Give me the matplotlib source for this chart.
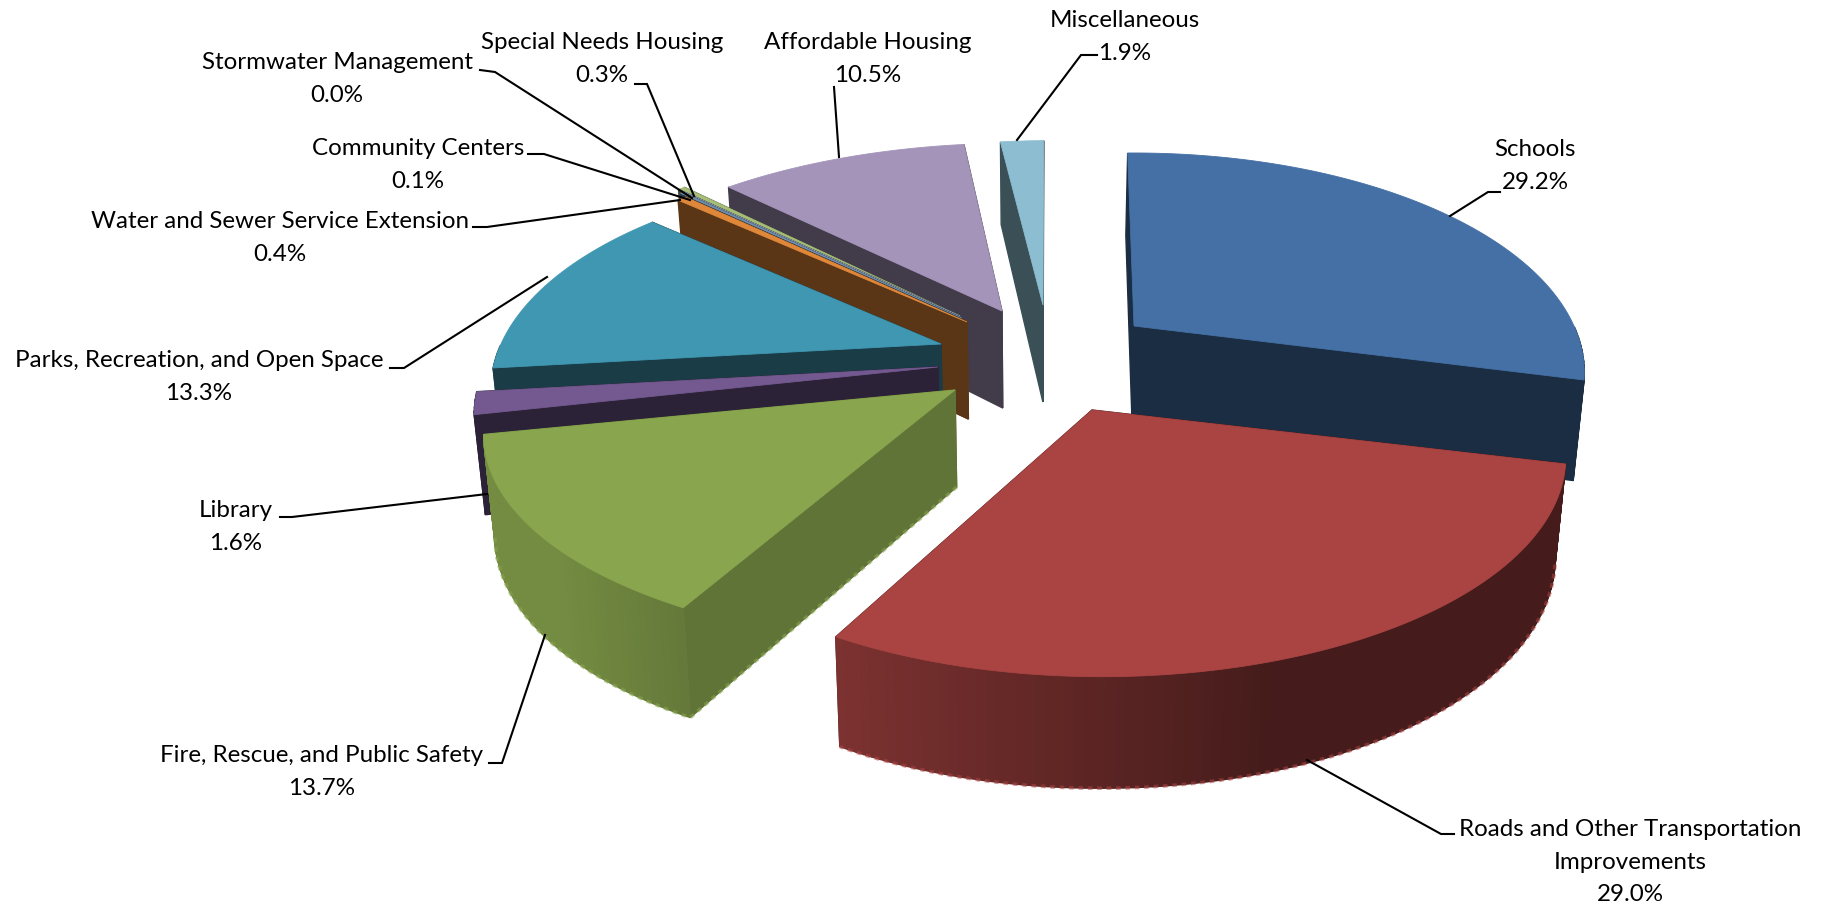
import numpy as np
import matplotlib
matplotlib.use("Agg")
import matplotlib.pyplot as plt

# share of spending per category, clockwise from the top
categories = ["Schools", "Roads and Other Transportation\nImprovements",
              "Fire, Rescue, and Public Safety", "Library",
              "Parks, Recreation, and Open Space",
              "Water and Sewer Service Extension", "Community Centers",
              "Stormwater Management", "Special Needs Housing",
              "Affordable Housing", "Miscellaneous"]
shares = [29.2, 29.0, 13.7, 1.6, 13.3, 0.4, 0.1, 0.0, 0.3, 10.5, 1.9]

# styles
top_colors = ["#4470A5", "#A94442", "#89A54E", "#735990", "#4097B2", "#E0883A",
              "#6F8FB0", "#A5B5C5", "#A6BE78", "#A594BA", "#8CBDD0"]
side_shade = [0.40, 0.40, 0.70, 0.38, 0.40, 0.40, 0.40, 0.40, 0.40, 0.40, 0.42]
# explode: where the tip of each slice ends up (picture px) and how much it grows
tips = [(1134, 326), (1092, 410), (955, 390), (938, 367), (941, 344), (967, 322),
        (962, 318), (960, 316), (958, 315), (1002, 311), (1043, 305)]
grow_x = [1.0, 1.03, 1.04, 1.03, 1.0, 1.0, 1.0, 1.0, 1.0, 1.05, 1.0]
grow_y = [1.0, 1.0, 0.96, 1.03, 1.0, 1.0, 1.0, 1.0, 1.0, 0.97, 0.95]
lean = [0, 10, -3, 0, 0, 0, 0, 0, 0, 14, 7]
draw_order = [10, 9, 8, 7, 6, 5, 4, 3, 2, 0, 1]

# label text centre (first line), then the leader line from slice to label
label_xy = [(1535, 139), (1630, 819), (322, 745), (236, 500), (199, 350), (280, 211),
            (418, 138), (337, 52), (602, 32), (868, 32), (1125, 10)]
leaders = [[(1450, 216), (1488, 192), (1500, 192)],
           [(1307, 760), (1441, 834), (1454, 834)],
           [(545, 635), (502, 763), (489, 763)],
           [(487, 494), (292, 517), (280, 517)],
           [(547, 277), (404, 368), (390, 368)],
           [(680, 200), (487, 227), (473, 227)],
           [(690, 200), (544, 154), (528, 154)],
           [(692, 198), (495, 72), (480, 70)],
           [(694, 196), (647, 84), (635, 84)],
           [(839, 157), (834, 87)],
           [(1017, 140), (1081, 55), (1097, 55)]]

R = 440
K = 0.477
PERSP = 0.213
DEPTH = 97
GX = 1037
CONV = 0.98
START = -1.0


def project(theta, r, i, z=0.0):
    a = np.radians(theta)
    X = r * np.sin(a)
    Y = -r * np.cos(a)
    s = 1 / (1 - PERSP * Y)
    x = tips[i][0] + R * grow_x[i] * X * s + lean[i] * r
    y = tips[i][1] + R * K * grow_y[i] * Y * s + z * (1 + 0.15 * Y)
    if z > 0:
        x = GX + (x - GX) * CONV
    return x, y


def wall_shade(theta, i):
    # only the two big front slices get the left to right fade
    if i not in (1, 2):
        return side_shade[i]
    X = np.sin(np.radians(theta))
    return np.clip(0.41 + (0.3 - X) * 0.42, 0.41, 0.85)


def mixed(col, f):
    return tuple(min(1, c * f) for c in matplotlib.colors.to_rgb(col))


plt.rcParams['font.family'] = ['Lato', 'DejaVu Sans']
fig = plt.figure(figsize=(18.27, 9.08), dpi=100)
ax = fig.add_axes([0, 0, 1, 1])
ax.set_xlim(0, 1827)
ax.set_ylim(908, 0)
ax.axis('off')

edges = START + 3.6 * np.concatenate([[0], np.cumsum(shares)])

for i in draw_order:
    t0, t1 = edges[i], edges[i + 1]
    col = top_colors[i]
    angles = np.linspace(t0, t1, max(2, int(t1 - t0) + 2))
    faces = []
    # two flat sides of the slice
    for t in (t0, t1):
        pts = [project(t, 0, i), project(t, 1, i),
               project(t, 1, i, DEPTH), project(t, 0, i, DEPTH)]
        faces.append((-0.5 * np.cos(np.radians(t)), pts, mixed(col, side_shade[i])))
    # rounded outside wall in strips
    for a, b in zip(angles[:-1], angles[1:]):
        m = (a + b) / 2
        if np.cos(np.radians(m)) > 0:
            continue
        pts = [project(a, 1, i), project(b, 1, i),
               project(b, 1, i, DEPTH), project(a, 1, i, DEPTH)]
        faces.append((-np.cos(np.radians(m)), pts, mixed(col, wall_shade(m, i))))
    for _, pts, c in sorted(faces, key=lambda f: f[0]):
        ax.fill(*zip(*pts), facecolor=c, edgecolor=c, lw=1.0, zorder=1)
    top = [project(0, 0, i)] + [project(t, 1, i) for t in angles]
    ax.fill(*zip(*top), facecolor=col, edgecolor=col, lw=0.6, zorder=1)

    # pale broken fringe under the big front slices
    if i in (1, 2):
        low = [project(t, 1, i, DEPTH) for t in angles]
        if i == 2:
            low = [project(t0, 0, i, DEPTH)] + low
        ax.plot(*zip(*low), color=col, alpha=0.55, lw=2.6,
                ls=(0, (1.3, 1.3)), zorder=1)

for name, share, xy, line in zip(categories, shares, label_xy, leaders):
    ax.plot(*zip(*line), color='black', lw=1.5, zorder=3, solid_joinstyle='miter')
    ax.text(xy[0], xy[1], f"{name}\n{share:.1f}%", ha='center', va='top',
            fontsize=17.4, linespacing=1.68, color='black', zorder=4)

fig.savefig("out.png", dpi=100)
